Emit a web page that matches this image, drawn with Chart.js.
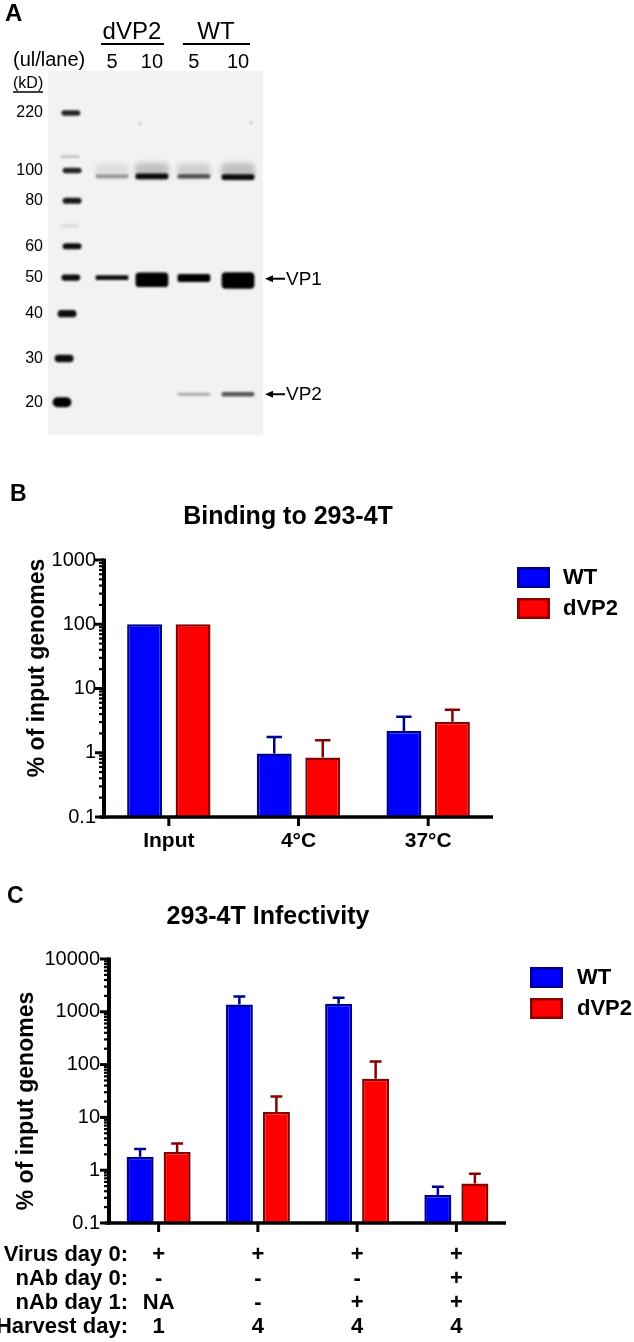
<!DOCTYPE html>
<html>
<head>
<meta charset="utf-8">
<script src="https://cdn.jsdelivr.net/npm/chart.js@4.4.1/dist/chart.umd.min.js"></script>
<style>
  html, body { margin: 0; padding: 0; background: #fff; }
  #page { position: relative; width: 634px; height: 1342px; overflow: hidden; }
  canvas { position: absolute; left: 0; }
</style>
</head>
<body>
<div id="page">
  <canvas id="blot" width="634" height="450" style="top:0;width:634px;height:450px"></canvas>
  <canvas id="binding" width="634" height="420" style="top:450px;width:634px;height:420px"></canvas>
  <canvas id="infect" width="634" height="472" style="top:870px;width:634px;height:472px"></canvas>
</div>
<script>
const SANS = "'Liberation Sans', Arial, Helvetica, sans-serif";

// ---- Panel A: western blot (relative mobility Rf, 0 = top of blot) ----
const ladderKd = [220, 100, 80, 60, 50, 40, 30, 20];
const ladderRf = [0.115, 0.273, 0.356, 0.481, 0.567, 0.666, 0.789, 0.909];
const laneVolumes = ['5', '10', '5', '10'];
const laneCenters = [1, 1.95, 2.95, 4];
const laneGroups = ['dVP2', 'WT'];
// marker lane, incl. two faint unlabelled bands
const markerLane = [0.02, 0, 0.05, 0.05, 0, 0.05, 0.02, -0.07, -0.14, -0.19];
const markerRf = [0.115, 0.235, 0.273, 0.356, 0.425, 0.481, 0.567, 0.666, 0.789, 0.909];
const markerDensity = [0.85, 0.2, 0.85, 0.9, 0.08, 0.95, 0.95, 0.95, 0.95, 1];
const markerSpread = [0.015, 0.008, 0.015, 0.017, 0.01, 0.017, 0.017, 0.02, 0.02, 0.028];
// sample lanes: dVP2 5, dVP2 10, WT 5, WT 10
const hazeRf = [0.274, 0.274, 0.274, 0.274];
const hazeDensity = [0.08, 0.2, 0.14, 0.2];
const band95Rf = [0.289, 0.289, 0.289, 0.291];
const band95Density = [0.35, 0.95, 0.65, 0.95];
const band95Spread = [0.010, 0.016, 0.012, 0.016];
const vp1Rf = 0.57;
const vp1BandRf = [0.567, 0.573, 0.568, 0.575];
const vp1Density = [0.95, 1, 1, 1];
const vp1Spread = [0.013, 0.04, 0.022, 0.045];
const vp2Rf = 0.887;
const vp2Density = [0, 0, 0.3, 0.65];
const vp2Spread = [0, 0, 0.008, 0.012];
const speckLane = [1.67, 4.31];
const speckRf = [0.144, 0.142];

// ---- Panel B: binding ----
const bindingCats = ['Input', '4°C', '37°C'];
const bindingWT = [100, 0.97, 2.18];
const bindingWTUpper = [100, 1.76, 3.64];
const bindingDVP2 = [100, 0.84, 3.05];
const bindingDVP2Upper = [100, 1.56, 4.68];
const bindingDecades = [0.1, 1, 10, 100, 1000];

// ---- Panel C: infectivity ----
const infRowTitles = ['Virus day 0:', 'nAb day 0:', 'nAb day 1:', 'Harvest day:'];
const virusDay0 = ['+', '+', '+', '+'];
const nAbDay0 = ['-', '-', '-', '+'];
const nAbDay1 = ['NA', '-', '+', '+'];
const harvestDay = ['1', '4', '4', '4'];
const infWT = [1.79, 1380, 1420, 0.34];
const infWTUpper = [2.51, 1950, 1850, 0.485];
const infDVP2 = [2.2, 12.7, 54, 0.56];
const infDVP2Upper = [3.21, 25, 115, 0.86];
const infDecades = [0.1, 1, 10, 100, 1000, 10000];

Chart.defaults.font.family = SANS;
Chart.defaults.color = '#000';
Chart.defaults.animation = false;

const WT_FILL = '#0000ff', WT_EDGE = '#000090';
const DV_FILL = '#ff0000', DV_EDGE = '#880000';

function strokeLine(ctx, x1, y1, x2, y2, w) {
    ctx.lineWidth = w;
    ctx.beginPath();
    ctx.moveTo(x1, y1);
    ctx.lineTo(x2, y2);
    ctx.stroke();
}

// free text (panel letters, titles, axis titles)
const figText = {
    id: 'figText',
    afterDraw(chart, args, opts) {
        const ctx = chart.ctx;
        (opts.items || []).forEach(t => {
            ctx.save();
            ctx.font = t.font;
            ctx.fillStyle = '#000';
            ctx.textAlign = t.align || 'left';
            ctx.textBaseline = 'middle';
            ctx.translate(t.x, t.y);
            if (t.rotate) ctx.rotate(t.rotate);
            ctx.fillText(t.text, 0, 0);
            ctx.restore();
        });
    }
};

// Prism style axes: thick lines, minor log ticks
const prismAxes = {
    id: 'prismAxes',
    afterDraw(chart) {
        const { ctx, chartArea: a, scales: { x, y } } = chart;
        ctx.save();
        ctx.strokeStyle = '#000';
        const lo = Math.round(Math.log10(y.min)), hi = Math.round(Math.log10(y.max));
        for (let e = lo; e < hi; e++) {
            for (let k = 2; k <= 9; k++) {
                const py = y.getPixelForValue(k * Math.pow(10, e));
                strokeLine(ctx, a.left - 5, py, a.left, py, 2.2);
            }
        }
        y.ticks.forEach(t => {
            const py = y.getPixelForValue(t.value);
            strokeLine(ctx, a.left - 9, py, a.left, py, 3);
        });
        strokeLine(ctx, a.left, a.top - 1.5, a.left, a.bottom + 1.5, 4);
        strokeLine(ctx, a.left - 4, a.bottom, a.right, a.bottom, 3.5);
        x.ticks.forEach((t, i) => {
            const px = x.getPixelForTick(i);
            strokeLine(ctx, px, a.bottom, px, a.bottom + 9, 3);
        });
        ctx.restore();
    }
};

// upper-only error bars
const errorBars = {
    id: 'errorBars',
    afterDatasetsDraw(chart) {
        const { ctx, scales: { y } } = chart;
        chart.data.datasets.forEach((ds, di) => {
            chart.getDatasetMeta(di).data.forEach((bar, i) => {
                const upper = ds.upper[i];
                if (upper == null || upper <= ds.data[i]) return;
                const top = y.getPixelForValue(upper);
                const cap = bar.width * 0.22;
                ctx.save();
                ctx.strokeStyle = ds.borderColor;
                ctx.lineWidth = 2.5;
                ctx.beginPath();
                ctx.moveTo(bar.x, bar.y);
                ctx.lineTo(bar.x, top);
                ctx.moveTo(bar.x - cap, top);
                ctx.lineTo(bar.x + cap, top);
                ctx.stroke();
                ctx.restore();
            });
        });
    }
};

const sideLegend = {
    id: 'sideLegend',
    afterDraw(chart, args, opts) {
        const { ctx, chartArea: a } = chart;
        chart.data.datasets.forEach((ds, i) => {
            const x0 = a.right + opts.dx, y0 = a.top + opts.dy + i * 31;
            ctx.save();
            ctx.fillStyle = ds.backgroundColor;
            ctx.fillRect(x0, y0, 33, 21);
            ctx.strokeStyle = ds.borderColor;
            ctx.lineWidth = 2.5;
            ctx.strokeRect(x0 + 1.25, y0 + 1.25, 30.5, 18.5);
            ctx.font = 'bold 22px ' + SANS;
            ctx.fillStyle = '#000';
            ctx.textBaseline = 'middle';
            ctx.fillText(ds.label, x0 + opts.textGap, y0 + 11);
            ctx.restore();
        });
    }
};

// row titles to the left of the multi-line category labels
const rowTitles = {
    id: 'rowTitles',
    afterDraw(chart, args, opts) {
        if (!opts.titles) return;
        const { ctx, chartArea: a, scales: { x } } = chart;
        const lh = 24;
        ctx.save();
        ctx.font = 'bold 22px ' + SANS;
        ctx.textAlign = 'right';
        ctx.textBaseline = 'middle';
        opts.titles.forEach((t, r) => {
            ctx.fillText(t, opts.right, a.bottom + x.options.ticks.padding + lh * (r + 0.5));
        });
        ctx.restore();
    }
};

function barChart(id, cats, series, decades, box, extra) {
    return new Chart(document.getElementById(id), {
        type: 'bar',
        data: {
            labels: cats,
            datasets: [
                { label: 'WT', data: series[0], upper: series[1], backgroundColor: WT_FILL, borderColor: WT_EDGE, borderWidth: 2.5 },
                { label: 'dVP2', data: series[2], upper: series[3], backgroundColor: DV_FILL, borderColor: DV_EDGE, borderWidth: 2.5 }
            ]
        },
        options: {
            responsive: false,
            layout: { padding: { left: 0, top: box.top, right: box.right, bottom: 0 } },
            datasets: { bar: { categoryPercentage: box.catPct, barPercentage: box.barPct } },
            plugins: {
                legend: { display: false },
                title: { display: false },
                tooltip: { enabled: false },
                sideLegend: { dx: 24, dy: box.legendDy, textGap: box.textGap },
                figText: { items: extra.text },
                rowTitles: { titles: extra.rowTitles, right: 128 }
            },
            scales: {
                x: {
                    afterFit: s => { s.height = box.xHeight; },
                    grid: { display: false, drawTicks: false },
                    border: { display: false },
                    ticks: { padding: box.xPad, autoSkip: false, maxRotation: 0, color: '#000', font: { size: box.xFont, weight: 'bold', lineHeight: 24 / box.xFont } }
                },
                y: {
                    type: 'logarithmic',
                    min: decades[0],
                    max: decades[decades.length - 1],
                    afterFit: s => { s.width = box.left; },
                    afterBuildTicks: s => { s.ticks = decades.map(v => ({ value: v, major: true })); },
                    grid: { display: false, drawTicks: false },
                    border: { display: false },
                    ticks: { autoSkip: false, padding: box.yPad, color: '#000', font: { size: 20 }, callback: v => String(v) }
                }
            }
        },
        plugins: [prismAxes, errorBars, sideLegend, figText, rowTitles]
    });
}

barChart('binding', bindingCats,
    [bindingWT, bindingWTUpper, bindingDVP2, bindingDVP2Upper], bindingDecades,
    { top: 110, right: 141, left: 104, xHeight: 53, xPad: 12, yPad: 8, xFont: 21, catPct: 0.748, barPct: 0.72, legendDy: 7, textGap: 46 },
    {
        text: [
            { text: 'B', x: 10, y: 45, font: 'bold 23px ' + SANS },
            { text: 'Binding to 293-4T', x: 288, y: 67, align: 'center', font: 'bold 25px ' + SANS },
            { text: '% of input genomes', x: 38, y: 218, align: 'center', rotate: -Math.PI / 2, font: 'bold 23px ' + SANS }
        ]
    });

barChart('infect', virusDay0.map((v, i) => [v, nAbDay0[i], nAbDay1[i], harvestDay[i]]),
    [infWT, infWTUpper, infDVP2, infDVP2Upper], infDecades,
    { top: 89, right: 128, left: 109, xHeight: 119, xPad: 20, yPad: 9, xFont: 22, catPct: 0.746, barPct: 0.73, legendDy: 8, textGap: 47 },
    {
        rowTitles: infRowTitles,
        text: [
            { text: 'C', x: 7, y: 27, font: 'bold 23px ' + SANS },
            { text: '293-4T Infectivity', x: 268, y: 47, align: 'center', font: 'bold 25px ' + SANS },
            { text: '% of input genomes', x: 27, y: 231, align: 'center', rotate: -Math.PI / 2, font: 'bold 23px ' + SANS }
        ]
    });

// ---- blot ----
const blotBands = {
    id: 'blotBands',
    beforeDatasetsDraw(chart) {
        const { ctx, chartArea: a, scales: { x, y } } = chart;
        ctx.save();
        ctx.fillStyle = '#f2f2f2';
        ctx.fillRect(a.left, a.top, a.right - a.left, a.bottom - a.top);
        ctx.restore();
        const laneW = x.getPixelForValue(1) - x.getPixelForValue(0);
        chart.data.datasets.forEach((ds, di) => {
            chart.getDatasetMeta(di).data.forEach((pt, i) => {
                const d = ds.density[i];
                if (!d) return;
                const rf = ds.data[i].y, sp = ds.spread[i];
                const h = Math.max(2, Math.abs(y.getPixelForValue(rf + sp / 2) - y.getPixelForValue(rf - sp / 2)));
                const w = ds.bandWidth * laneW;
                ctx.save();
                ctx.filter = `blur(${ds.blur}px)`;
                ctx.fillStyle = `rgba(0,0,0,${d})`;
                ctx.beginPath();
                ctx.roundRect(pt.x - w / 2, pt.y - h / 2, w, h, Math.min(h * ds.round, w / 2));
                ctx.fill();
                ctx.restore();
            });
        });
    },
    afterDraw(chart) {
        const { ctx, chartArea: a, scales: { x, y } } = chart;
        ctx.save();
        ctx.fillStyle = '#000';
        ctx.strokeStyle = '#000';
        ctx.textBaseline = 'middle';
        // sample volumes and group headers
        ctx.font = '20px ' + SANS;
        ctx.textAlign = 'center';
        laneCenters.forEach((l, i) => ctx.fillText(laneVolumes[i], x.getPixelForValue(l), 62));
        ctx.font = '24px ' + SANS;
        laneGroups.forEach((g, gi) => {
            const l1 = x.getPixelForValue(laneCenters[gi * 2]), l2 = x.getPixelForValue(laneCenters[gi * 2 + 1]);
            ctx.fillText(g, (l1 + l2) / 2, 32);
            strokeLine(ctx, l1 - 11, 44, l2 + 12, 44, 2);
        });
        ctx.textAlign = 'left';
        ctx.font = '20px ' + SANS;
        ctx.fillText('(ul/lane)', 13, 60);
        ctx.font = '16px ' + SANS;
        ctx.fillText('(kD)', 13, 84);
        strokeLine(ctx, 13, 92, 43, 92, 1.5);
        ctx.font = 'bold 24px ' + SANS;
        ctx.fillText('A', 5, 14);
        // VP1 / VP2 arrows
        ctx.font = '19px ' + SANS;
        [['VP1', vp1Rf], ['VP2', vp2Rf]].forEach(([name, rf]) => {
            const py = y.getPixelForValue(rf);
            const x0 = a.right + 2;
            strokeLine(ctx, x0 + 6, py, x0 + 20, py, 2);
            ctx.beginPath();
            ctx.moveTo(x0, py);
            ctx.lineTo(x0 + 8, py - 3.5);
            ctx.lineTo(x0 + 8, py + 3.5);
            ctx.closePath();
            ctx.fill();
            ctx.fillText(name, x0 + 21, py + 1);
        });
        ctx.restore();
    }
};

function bandSet(lanes, rfs, density, spread, bandWidth, blur, round) {
    return {
        data: lanes.map((l, i) => ({ x: l, y: rfs[i] })),
        density: density, spread: spread, bandWidth: bandWidth, blur: blur, round: round,
        pointRadius: 0, showLine: false
    };
}

new Chart(document.getElementById('blot'), {
    type: 'scatter',
    data: {
        datasets: [
            bandSet(markerLane, markerRf, markerDensity, markerSpread, 0.45, 1.2, 0.5),
            bandSet(laneCenters, hazeRf, hazeDensity, [0.04, 0.045, 0.04, 0.045], 0.8, 2.5, 0.3),
            bandSet(laneCenters, band95Rf, band95Density, band95Spread, 0.78, 1.3, 0.35),
            bandSet(laneCenters, vp1BandRf, vp1Density, vp1Spread, 0.78, 1.3, 0.25),
            bandSet(laneCenters, laneCenters.map(() => vp2Rf), vp2Density, vp2Spread, 0.78, 1.2, 0.4),
            bandSet(speckLane, speckRf, [0.35, 0.35], [0.006, 0.006], 0.06, 0.8, 0.5)
        ]
    },
    options: {
        responsive: false,
        layout: { padding: { left: 0, top: 71, right: 371, bottom: 5 } },
        plugins: { legend: { display: false }, title: { display: false }, tooltip: { enabled: false } },
        scales: {
            x: { type: 'linear', display: false, min: -0.524, max: 4.595 },
            y: {
                type: 'linear', min: 0, max: 1, reverse: true,
                afterFit: s => { s.width = 48; },
                afterBuildTicks: s => { s.ticks = ladderRf.map(v => ({ value: v })); },
                grid: { display: false, drawTicks: false },
                border: { display: false },
                ticks: { autoSkip: false, padding: 5, color: '#000', font: { size: 16 }, callback: (v, i) => ladderKd[i] }
            }
        }
    },
    plugins: [blotBands]
});
</script>
</body>
</html>
